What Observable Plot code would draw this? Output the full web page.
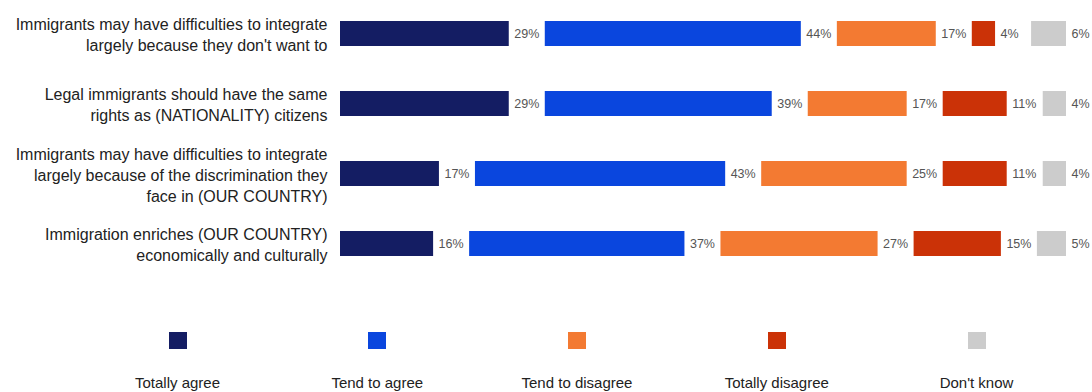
<!DOCTYPE html>
<html>
<head>
<meta charset="utf-8">
<script src="https://cdn.jsdelivr.net/npm/d3@7"></script>
<script src="https://cdn.jsdelivr.net/npm/@observablehq/plot@0.6"></script>
<style>
  html, body { margin: 0; padding: 0; background: #fff; }
  #legend { position: relative; width: 1092px; height: 121px; font-family: "Liberation Sans", Arial, sans-serif; color: #222; }
  .sw { position: absolute; width: 18px; height: 17px; top: 61px; }
  .lb { position: absolute; top: 104px; width: 200px; text-align: center; font-size: 15px; line-height: 15px; white-space: nowrap; }
</style>
</head>
<body>
<div id="chart"></div>
<div id="legend"></div>
<script>
const categories = [
  "Immigrants may have difficulties to integrate\nlargely because they don't want to",
  "Legal immigrants should have the same\nrights as (NATIONALITY) citizens",
  "Immigrants may have difficulties to integrate\nlargely because of the discrimination they\nface in (OUR COUNTRY)",
  "Immigration enriches (OUR COUNTRY)\neconomically and culturally"
];
const responses = ["Totally agree", "Tend to agree", "Tend to disagree", "Totally disagree", "Don't know"];
const totallyAgree    = [29, 29, 17, 16];
const tendToAgree     = [44, 39, 43, 37];
const tendToDisagree  = [17, 17, 25, 27];
const totallyDisagree = [4, 11, 11, 15];
const dontKnow        = [6, 4, 4, 5];
const colors = ["#141d63", "#0a46de", "#f37a32", "#cb3207", "#cccccc"];

const series = [totallyAgree, tendToAgree, tendToDisagree, totallyDisagree, dontKnow];
const GAP = 6.19; // gap between segments, in percentage units

const rows = [];
categories.forEach((cat, i) => {
  let cum = 0;
  series.forEach((s, k) => {
    const v = s[i];
    const x1 = cum + k * GAP;
    rows.push({cat, resp: responses[k], v, x1, x2: x1 + v});
    cum += v;
  });
});

const chart = Plot.plot({
  width: 1092,
  height: 271,
  marginLeft: 340,
  marginRight: 26,
  marginTop: 0,
  marginBottom: 0,
  style: {fontFamily: "'Liberation Sans', Arial, sans-serif", color: "#222", background: "#fff"},
  x: {domain: [0, 100 + 4 * GAP], axis: null},
  y: {domain: categories, range: [5.5, 270.5], paddingInner: 0.65, paddingOuter: 0.2, label: null},
  color: {domain: responses, range: colors},
  marks: [
    Plot.barX(rows, {x1: "x1", x2: "x2", y: "cat", fill: "resp"}),
    Plot.text(rows, {x: "x2", y: "cat", text: d => d.v + "%", dx: 5, textAnchor: "start", fill: "#555", fontSize: 12.5}),
    Plot.axisY({tickSize: 0, tickPadding: 13, fontSize: 16, lineHeight: 1.31, label: null})
  ]
});
document.getElementById("chart").appendChild(chart);

const legend = document.getElementById("legend");
responses.forEach((r, i) => {
  const cx = 177.5 + i * 199.75;
  const sw = document.createElement("div");
  sw.className = "sw";
  sw.style.left = (cx - 9) + "px";
  sw.style.background = colors[i];
  legend.appendChild(sw);
  const lb = document.createElement("div");
  lb.className = "lb";
  lb.style.left = (cx - 100) + "px";
  lb.textContent = r;
  legend.appendChild(lb);
});
</script>
</body>
</html>
